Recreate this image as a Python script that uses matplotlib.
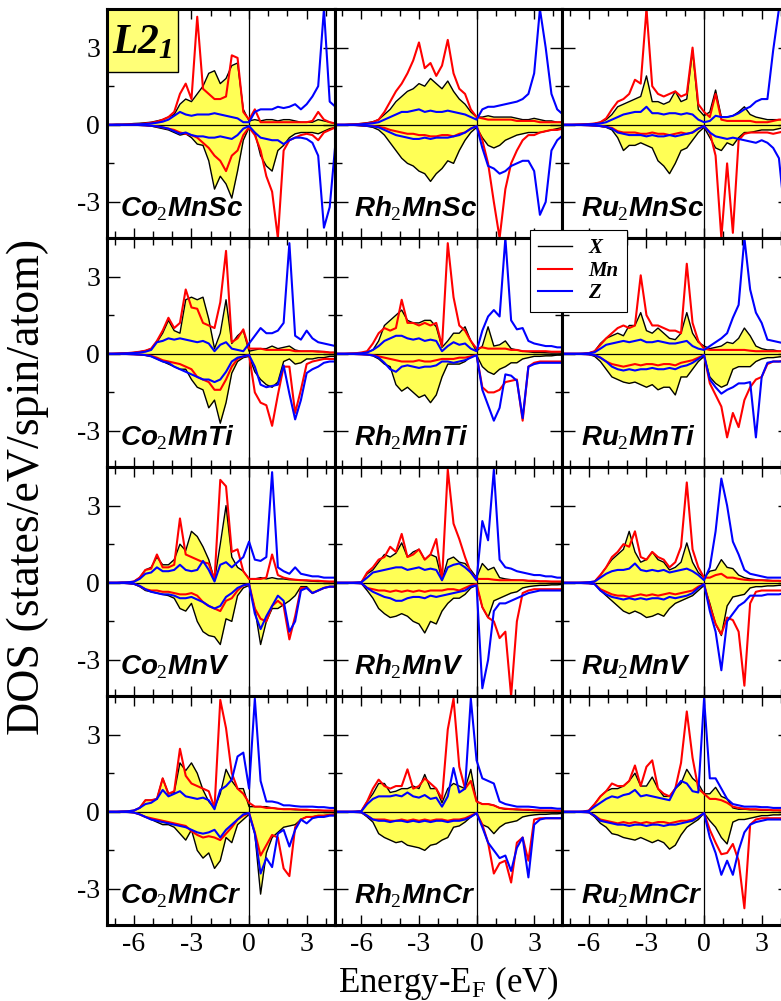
import matplotlib
matplotlib.use("Agg")
import matplotlib.pyplot as plt
from matplotlib.patches import Rectangle
from matplotlib.lines import Line2D
from matplotlib.ticker import FixedLocator, MultipleLocator

plt.rcParams["font.family"] = "Liberation Serif"
plt.rcParams["axes.unicode_minus"] = False
plt.rcParams["mathtext.fontset"] = "custom"
plt.rcParams["mathtext.rm"] = "Liberation Serif"
plt.rcParams["mathtext.it"] = "Liberation Sans:italic:bold"
plt.rcParams["mathtext.bf"] = "Liberation Serif:italic:bold"

# energy grid (eV, relative to E_F)
energy = [-7.5, -7.2, -6.9, -6.6, -6.3, -6.0, -5.7, -5.4, -5.1, -4.8,
          -4.5, -4.2, -3.9, -3.6, -3.3, -3.0, -2.7, -2.4, -2.1, -1.8,
          -1.5, -1.2, -0.9, -0.6, -0.3, 0.0, 0.3, 0.6, 0.9, 1.2,
          1.5, 1.8, 2.1, 2.4, 2.7, 3.0, 3.3, 3.6, 3.9, 4.2, 4.5]

# ---- Co2MnSc ----
co2mnsc_x_up = [0, 0, 0.02, 0.02, 0.03, 0.05, 0.06, 0.08, 0.1, 0.15,
                0.2, 0.3, 0.4, 0.8, 1.0, 0.9, 1.2, 1.5, 2.0, 2.1,
                1.6, 1.8, 2.3, 2.4, 0.6, 0.15, 0.2, 0.15, 0.2, 0.2,
                0.15, 0.2, 0.2, 0.15, 0.1, 0.1, 0.1, 0.2, 0.15, 0.1, 0.05]
co2mnsc_mn_up = [0, 0, 0, 0, 0.01, 0.02, 0.03, 0.05, 0.08, 0.12,
                 0.2, 0.3, 0.5, 1.2, 1.6, 1.0, 4.2, 1.4, 1.2, 1.0,
                 1.0, 1.1, 2.7, 2.6, 0.5, 0.2, 0.6, 0.1, 0.1, 0.1,
                 0.1, 0.1, 0.1, 0.1, 0.1, 0.1, 0.15, 0.5, 0.2, 0.1, 0.05]
co2mnsc_z_up = [0, 0, 0, 0, 0, 0.01, 0.02, 0.03, 0.05, 0.08,
                0.12, 0.2, 0.35, 0.5, 0.4, 0.35, 0.4, 0.4, 0.4, 0.45,
                0.4, 0.35, 0.3, 0.25, 0.1, 0.1, 0.5, 0.6, 0.6, 0.6,
                0.7, 0.65, 0.7, 0.8, 0.6, 0.8, 1.1, 1.5, 4.5, 0.9, 0.7]
co2mnsc_x_dn = [0, 0, 0, 0, 0, -0.01, -0.02, -0.03, -0.05, -0.1,
                -0.15, -0.2, -0.3, -0.4, -0.35, -0.5, -0.75, -0.8, -1.4, -2.5,
                -2.0, -2.3, -2.85, -1.8, -0.6, -0.1, -0.3, -1.2, -1.6, -1.8,
                -1.0, -0.8, -0.5, -0.35, -0.3, -0.3, -0.3, -0.35, -0.25, -0.15, -0.1]
co2mnsc_mn_dn = [0, 0, 0, 0, 0, 0, -0.01, -0.02, -0.04, -0.06,
                 -0.1, -0.15, -0.2, -0.3, -0.35, -0.4, -0.5, -0.7, -0.9, -1.2,
                 -1.4, -1.8, -1.2, -1.0, -0.4, -0.1, -0.4, -1.0, -2.0, -2.6,
                 -4.4, -1.0, -0.6, -0.5, -0.4, -0.35, -0.4, -0.6, -0.3, -0.2, -0.1]
co2mnsc_z_dn = [0, 0, 0, 0, 0, 0, -0.01, -0.02, -0.04, -0.06,
                -0.1, -0.15, -0.25, -0.35, -0.3, -0.4, -0.45, -0.45, -0.5, -0.5,
                -0.45, -0.5, -0.55, -0.4, -0.15, -0.05, -0.3, -0.5, -0.55, -0.6,
                -0.6, -0.75, -0.6, -0.5, -0.5, -0.55, -0.7, -1.2, -4.0, -3.2, -0.7]

# ---- Rh2MnSc ----
rh2mnsc_x_up = [0, 0, 0, 0.02, 0.03, 0.05, 0.08, 0.12, 0.2, 0.4,
                0.6, 0.9, 1.1, 1.3, 1.4, 1.6, 1.5, 1.8, 1.6, 1.4,
                1.7, 1.3, 1.0, 0.8, 0.5, 0.3, 0.3, 0.35, 0.3, 0.3,
                0.3, 0.3, 0.25, 0.2, 0.2, 0.25, 0.2, 0.15, 0.15, 0.1, 0.1]
rh2mnsc_mn_up = [0, 0, 0, 0.01, 0.02, 0.04, 0.06, 0.1, 0.2, 0.5,
                 0.9, 1.3, 1.6, 2.0, 2.5, 3.2, 2.2, 2.4, 1.9, 2.3,
                 3.3, 2.0, 1.4, 1.2, 0.6, 0.3, 0.25, 0.2, 0.2, 0.2,
                 0.2, 0.2, 0.15, 0.15, 0.15, 0.15, 0.1, 0.1, 0.1, 0.1, 0.1]
rh2mnsc_z_up = [0, 0, 0, 0, 0.01, 0.02, 0.04, 0.06, 0.1, 0.2,
                0.3, 0.4, 0.5, 0.5, 0.55, 0.6, 0.5, 0.55, 0.5, 0.5,
                0.55, 0.5, 0.45, 0.4, 0.3, 0.2, 0.6, 0.7, 0.7, 0.75,
                0.8, 0.85, 0.9, 1.0, 1.2, 2.0, 4.5, 3.0, 1.2, 0.6, 0.4]
rh2mnsc_x_dn = [0, 0, 0, 0, -0.02, -0.04, -0.06, -0.1, -0.2, -0.4,
                -0.7, -1.0, -1.3, -1.5, -1.6, -1.8, -1.9, -2.2, -1.9, -1.7,
                -1.4, -1.5, -1.0, -0.6, -0.3, -0.1, -0.5, -0.8, -0.9, -0.8,
                -0.6, -0.5, -0.4, -0.35, -0.3, -0.3, -0.3, -0.25, -0.2, -0.15, -0.1]
rh2mnsc_mn_dn = [0, 0, 0, 0, -0.01, -0.02, -0.03, -0.05, -0.08, -0.12,
                 -0.2, -0.25, -0.3, -0.35, -0.35, -0.4, -0.4, -0.45, -0.45, -0.4,
                 -0.4, -0.45, -0.35, -0.3, -0.15, -0.05, -0.6, -1.5, -3.0, -4.4,
                 -2.5, -1.5, -1.0, -0.6, -0.4, -0.4, -0.3, -0.25, -0.2, -0.2, -0.15]
rh2mnsc_z_dn = [0, 0, 0, 0, -0.01, -0.02, -0.04, -0.06, -0.1, -0.2,
                -0.3, -0.4, -0.45, -0.5, -0.55, -0.55, -0.5, -0.55, -0.5, -0.5,
                -0.5, -0.45, -0.4, -0.3, -0.15, -0.05, -0.9, -1.6, -1.7, -1.9,
                -1.8, -1.6, -1.5, -1.4, -1.4, -1.8, -3.5, -3.0, -1.0, -0.6, -0.4]

# ---- Ru2MnSc ----
ru2mnsc_x_up = [0, 0, 0, 0.01, 0.02, 0.03, 0.05, 0.1, 0.2, 0.4,
                0.7, 0.8, 0.9, 1.0, 1.1, 1.9, 0.9, 0.9, 0.8, 0.9,
                1.3, 0.9, 1.0, 2.9, 0.6, 0.35, 0.5, 1.35, 0.3, 0.3,
                0.35, 0.5, 0.7, 0.4, 0.3, 0.25, 0.2, 0.2, 0.2, 0.2, 0.2]
ru2mnsc_mn_up = [0, 0, 0, 0.01, 0.02, 0.03, 0.05, 0.1, 0.25, 0.6,
                 0.9, 1.0, 1.2, 1.75, 1.6, 4.5, 1.5, 1.2, 1.1, 1.2,
                 1.3, 1.1, 1.2, 3.0, 0.8, 0.5, 0.3, 1.2, 0.2, 0.15,
                 0.15, 0.15, 0.15, 0.15, 0.1, 0.1, 0.1, 0.15, 0.2, 0.2, 0.2]
ru2mnsc_z_up = [0, 0, 0, 0, 0.01, 0.02, 0.03, 0.05, 0.1, 0.2,
                0.3, 0.4, 0.45, 0.5, 0.5, 0.7, 0.45, 0.45, 0.4, 0.45,
                0.45, 0.4, 0.45, 0.4, 0.2, 0.1, 0.15, 0.35, 0.3, 0.3,
                0.35, 0.45, 0.6, 0.7, 0.9, 1.0, 1.0, 2.9, 4.5, 4.5, 3.0]
ru2mnsc_x_dn = [0, 0, 0, 0, -0.01, -0.02, -0.04, -0.06, -0.1, -0.2,
                -0.5, -1.0, -0.8, -0.8, -0.7, -0.8, -0.9, -1.4, -1.6, -1.9,
                -1.5, -1.0, -0.9, -0.6, -0.3, -0.1, -0.5, -0.9, -1.0, -0.7,
                -0.8, -0.5, -0.3, -0.3, -0.25, -0.2, -0.2, -0.2, -0.15, -0.1, -0.1]
ru2mnsc_mn_dn = [0, 0, 0, 0, -0.01, -0.02, -0.03, -0.05, -0.08, -0.12,
                 -0.25, -0.3, -0.3, -0.3, -0.35, -0.35, -0.3, -0.35, -0.35, -0.4,
                 -0.35, -0.3, -0.35, -0.3, -0.15, -0.05, -0.3, -1.2, -4.4, -1.5,
                 -4.2, -0.6, -0.35, -0.3, -0.3, -0.3, -0.3, -0.35, -0.3, -0.25, -0.2]
ru2mnsc_z_dn = [0, 0, 0, 0, -0.01, -0.02, -0.03, -0.05, -0.08, -0.15,
                -0.3, -0.35, -0.4, -0.4, -0.4, -0.45, -0.4, -0.45, -0.45, -0.4,
                -0.45, -0.4, -0.35, -0.3, -0.15, -0.05, -0.3, -0.45, -0.5, -0.55,
                -0.5, -0.55, -0.6, -0.65, -0.7, -0.6, -0.7, -0.9, -1.3, -3.5, -3.5]

# ---- Co2MnTi ----
co2mnti_x_up = [0, 0, 0.01, 0.02, 0.03, 0.05, 0.08, 0.12, 0.2, 0.45,
                0.8, 1.3, 0.9, 0.8, 2.1, 2.2, 2.1, 2.2, 1.35, 0.2,
                0.8, 2.1, 0.4, 0.7, 0.9, 0.1, 0.15, 0.2, 0.2, 0.3,
                0.2, 0.25, 0.3, 0.15, 0.1, 0.1, 0.1, 0.1, 0.08, 0.05, 0.05]
co2mnti_mn_up = [0, 0, 0.01, 0.02, 0.03, 0.05, 0.08, 0.12, 0.2, 0.5,
                 0.9, 1.4, 1.0, 1.2, 2.5, 1.8, 1.75, 1.2, 1.1, 1.0,
                 2.0, 4.0, 0.45, 0.6, 0.95, 0.2, 0.2, 0.2, 0.15, 0.15,
                 0.15, 0.15, 0.15, 0.1, 0.1, 0.1, 0.1, 0.08, 0.08, 0.05, 0.05]
co2mnti_z_up = [0, 0, 0, 0.01, 0.02, 0.03, 0.05, 0.08, 0.15, 0.45,
                0.5, 0.6, 0.55, 0.6, 0.55, 0.5, 0.45, 0.5, 0.4, 0.1,
                0.35, 0.45, 0.2, 0.15, 0.1, 0.4, 0.7, 1.0, 0.8, 0.8,
                0.9, 1.2, 4.3, 0.7, 0.55, 0.9, 0.6, 0.45, 0.4, 0.35, 0.3]
co2mnti_x_dn = [0, 0, 0, 0, -0.01, -0.02, -0.04, -0.06, -0.1, -0.2,
                -0.3, -0.4, -0.5, -0.6, -0.6, -1.0, -1.3, -1.4, -2.1, -1.8,
                -2.7, -1.9, -0.75, -0.3, -0.15, -0.1, -0.7, -1.0, -1.2, -1.3,
                -1.1, -0.3, -0.2, -0.4, -0.35, -0.2, -0.2, -0.15, -0.15, -0.1, -0.1]
co2mnti_mn_dn = [0, 0, 0, 0, -0.01, -0.02, -0.03, -0.05, -0.08, -0.15,
                 -0.25, -0.3, -0.35, -0.4, -0.5, -0.6, -0.9, -1.0, -1.1, -1.4,
                 -1.4, -1.0, -0.5, -0.2, -0.1, -0.05, -1.5, -1.9, -2.0, -2.8,
                 -1.6, -0.5, -0.5, -2.3, -1.4, -0.4, -0.3, -0.25, -0.2, -0.2, -0.2]
co2mnti_z_dn = [0, 0, 0, 0, -0.01, -0.02, -0.03, -0.05, -0.1, -0.2,
                -0.3, -0.35, -0.5, -0.6, -0.7, -0.8, -0.9, -1.0, -1.0, -1.1,
                -1.0, -0.7, -0.3, -0.15, -0.1, -0.05, -0.5, -1.2, -1.3, -1.25,
                -1.2, -0.45, -1.55, -2.55, -1.8, -0.75, -0.6, -0.5, -0.35, -0.3, -0.3]

# ---- Rh2MnTi ----
rh2mnti_x_up = [0, 0, 0, 0.01, 0.02, 0.04, 0.06, 0.15, 0.5, 1.1,
                1.3, 1.5, 1.7, 1.3, 1.2, 1.2, 1.3, 1.3, 1.05, 0.25,
                0.5, 0.8, 0.8, 1.05, 0.5, 0.1, 0.3, 1.05, 0.3, 0.35,
                0.5, 0.2, 0.15, 0.1, 0.08, 0.05, 0.05, 0.04, 0.03, 0.03, 0.02]
rh2mnti_mn_up = [0, 0, 0, 0.01, 0.02, 0.05, 0.1, 0.4, 0.8, 1.0,
                 0.9, 1.0, 2.1, 1.2, 1.2, 1.1, 1.2, 1.1, 1.2, 0.3,
                 4.3, 2.2, 1.1, 0.9, 0.5, 0.2, 0.25, 0.2, 0.2, 0.2,
                 0.2, 0.15, 0.15, 0.1, 0.1, 0.1, 0.1, 0.1, 0.08, 0.08, 0.08]
rh2mnti_z_up = [0, 0, 0, 0, 0.01, 0.02, 0.05, 0.15, 0.3, 0.5,
                0.6, 0.7, 0.7, 0.6, 0.55, 0.6, 0.5, 0.55, 0.5, 0.1,
                0.3, 0.45, 0.35, 0.4, 0.2, 0.1, 0.9, 1.45, 1.7, 1.45,
                4.5, 1.3, 0.95, 1.0, 0.5, 0.4, 0.35, 0.3, 0.3, 0.25, 0.25]
rh2mnti_x_dn = [0, 0, 0, 0, -0.01, -0.02, -0.04, -0.08, -0.2, -0.4,
                -0.5, -1.2, -1.45, -1.3, -1.5, -1.7, -1.6, -1.9, -1.6, -0.9,
                -0.4, -0.4, -0.4, -0.3, -0.1, -0.05, -0.5, -0.7, -0.8, -0.6,
                -0.5, -0.35, -0.35, -0.2, -0.15, -0.1, -0.1, -0.08, -0.08, -0.05, -0.05]
rh2mnti_mn_dn = [0, 0, 0, 0, -0.01, -0.02, -0.03, -0.05, -0.1, -0.15,
                 -0.2, -0.25, -0.3, -0.3, -0.3, -0.25, -0.3, -0.3, -0.25, -0.2,
                 -0.2, -0.2, -0.15, -0.15, -0.1, -0.05, -1.3, -1.5, -1.5, -1.4,
                 -1.1, -1.05, -1.0, -2.6, -0.5, -0.35, -0.3, -0.3, -0.3, -0.3, -0.3]
rh2mnti_z_dn = [0, 0, 0, 0, -0.01, -0.02, -0.03, -0.06, -0.15, -0.35,
                -0.6, -0.7, -0.5, -0.45, -0.5, -0.55, -0.5, -0.5, -0.45, -0.3,
                -0.3, -0.35, -0.3, -0.25, -0.15, -0.05, -1.4, -2.0, -2.6, -2.1,
                -0.8, -0.85, -1.05, -2.5, -0.5, -0.4, -0.35, -0.35, -0.35, -0.35, -0.35]

# ---- Ru2MnTi ----
ru2mnti_x_up = [0, 0, 0, 0, 0.01, 0.03, 0.1, 0.4, 0.6, 0.7,
                0.8, 0.7, 1.1, 1.1, 1.6, 0.9, 0.8, 1.0, 0.8, 0.6,
                0.55, 0.8, 1.6, 0.8, 0.45, 0.3, 0.2, 0.25, 0.3, 0.45,
                0.4, 0.6, 1.0, 0.7, 0.3, 0.2, 0.15, 0.15, 0.1, 0.1, 0.1]
ru2mnti_mn_up = [0, 0, 0, 0, 0.01, 0.03, 0.1, 0.35, 0.6, 0.8,
                 1.0, 1.1, 1.0, 1.1, 3.05, 1.5, 1.1, 1.1, 1.0, 0.9,
                 0.9, 0.8, 3.5, 1.2, 0.5, 0.2, 0.15, 0.15, 0.15, 0.15,
                 0.15, 0.15, 0.15, 0.12, 0.1, 0.1, 0.1, 0.1, 0.1, 0.1, 0.1]
ru2mnti_z_up = [0, 0, 0, 0, 0.01, 0.02, 0.06, 0.2, 0.35, 0.4,
                0.45, 0.5, 0.45, 0.5, 0.55, 0.45, 0.45, 0.5, 0.45, 0.4,
                0.4, 0.45, 0.5, 0.3, 0.2, 0.15, 0.3, 0.45, 0.6, 0.8,
                1.4, 1.9, 4.5, 2.5, 1.6, 1.2, 0.55, 0.5, 0.45, 0.4, 0.4]
ru2mnti_x_dn = [0, 0, 0, 0, -0.01, -0.03, -0.1, -0.3, -0.6, -0.9,
                -1.0, -1.1, -1.15, -1.1, -1.2, -1.3, -1.2, -1.4, -1.3, -1.3,
                -1.6, -0.9, -0.9, -0.6, -0.3, -0.1, -0.9, -1.15, -1.3, -1.2,
                -0.6, -0.5, -0.5, -0.5, -0.3, -0.2, -0.15, -0.15, -0.12, -0.1, -0.1]
ru2mnti_mn_dn = [0, 0, 0, 0, -0.01, -0.02, -0.05, -0.15, -0.3, -0.4,
                 -0.45, -0.5, -0.45, -0.4, -0.45, -0.4, -0.4, -0.45, -0.4, -0.4,
                 -0.45, -0.35, -0.3, -0.25, -0.15, -0.05, -1.15, -1.6, -2.05, -3.25,
                 -2.3, -2.85, -1.8, -1.3, -1.0, -0.9, -0.4, -0.3, -0.3, -0.25, -0.25]
ru2mnti_z_dn = [0, 0, 0, 0, -0.01, -0.02, -0.05, -0.15, -0.3, -0.5,
                -0.6, -0.65, -0.6, -0.65, -0.6, -0.6, -0.55, -0.6, -0.6, -0.55,
                -0.6, -0.5, -0.45, -0.35, -0.2, -0.05, -1.0, -1.3, -1.55, -1.4,
                -1.3, -1.15, -1.15, -1.1, -3.25, -0.9, -0.35, -0.3, -0.3, -0.3, -0.3]

# ---- Co2MnV ----
co2mnv_x_up = [0, 0, 0, 0.01, 0.02, 0.05, 0.2, 0.5, 0.6, 1.0,
               0.7, 0.7, 0.9, 1.5, 1.25, 2.0, 1.8, 1.4, 0.9, 0.1,
               1.5, 3.0, 1.0, 0.6, 0.45, 0.15, 0.15, 0.2, 0.15, 0.2,
               0.15, 0.15, 0.12, 0.12, 0.1, 0.08, 0.06, 0.05, 0.05, 0.04, 0.04]
co2mnv_mn_up = [0, 0, 0, 0.01, 0.02, 0.05, 0.2, 0.5, 0.55, 1.1,
                0.6, 0.6, 0.7, 2.5, 1.1, 1.0, 0.9, 0.8, 0.75, 0.1,
                4.0, 3.75, 1.2, 1.3, 0.45, 0.15, 0.15, 0.15, 0.2, 1.1,
                0.3, 0.2, 0.15, 0.12, 0.1, 0.1, 0.08, 0.08, 0.06, 0.05, 0.05]
co2mnv_z_up = [0, 0, 0, 0.01, 0.02, 0.04, 0.15, 0.35, 0.4, 0.6,
               0.45, 0.45, 0.5, 0.7, 0.5, 0.45, 0.5, 0.85, 0.5, 0.05,
               0.7, 0.8, 0.6, 0.8, 1.0, 1.6, 0.9, 0.85, 1.0, 4.3,
               0.6, 0.45, 0.35, 0.6, 0.35, 0.3, 0.25, 0.25, 0.2, 0.2, 0.2]
co2mnv_x_dn = [0, 0, 0, 0, -0.02, -0.05, -0.15, -0.3, -0.35, -0.4,
               -0.45, -0.5, -0.6, -1.0, -1.1, -0.8, -1.5, -1.9, -2.05, -2.1,
               -2.4, -1.4, -1.5, -0.5, -0.2, -0.1, -1.0, -2.4, -1.5, -1.0,
               -1.0, -0.85, -0.7, -0.5, -0.15, -0.15, -0.4, -0.3, -0.2, -0.15, -0.15]
co2mnv_mn_dn = [0, 0, 0, 0, -0.02, -0.04, -0.12, -0.25, -0.3, -0.3,
                -0.35, -0.35, -0.4, -0.45, -0.45, -0.4, -0.5, -0.75, -0.9, -1.0,
                -1.1, -0.7, -0.6, -0.3, -0.1, -0.05, -1.0, -1.4, -1.5, -0.9,
                -0.7, -0.9, -2.2, -1.3, -0.2, -0.2, -0.4, -0.3, -0.2, -0.15, -0.15]
co2mnv_z_dn = [0, 0, 0, 0, -0.02, -0.04, -0.12, -0.25, -0.35, -0.4,
               -0.45, -0.45, -0.5, -0.6, -0.6, -0.55, -0.65, -0.75, -0.9, -1.0,
               -0.9, -0.55, -0.4, -0.2, -0.1, -0.05, -1.2, -1.8, -1.3, -0.9,
               -0.5, -0.7, -1.9, -1.5, -0.3, -0.2, -0.4, -0.3, -0.2, -0.15, -0.15]

# ---- Rh2MnV ----
rh2mnv_x_up = [0, 0, 0, 0, 0.01, 0.02, 0.35, 0.5, 0.8, 1.1,
               1.0, 1.15, 1.55, 1.0, 1.2, 1.3, 0.9, 1.1, 1.0, 0.1,
               0.9, 1.0, 0.8, 0.75, 0.5, 0.2, 0.75, 0.5, 0.6, 0.2,
               0.15, 0.12, 0.1, 0.1, 0.08, 0.06, 0.05, 0.05, 0.04, 0.04, 0.03]
rh2mnv_mn_up = [0, 0, 0, 0, 0.01, 0.02, 0.4, 0.6, 0.9, 1.0,
                1.4, 1.2, 1.9, 1.0, 1.1, 1.3, 0.9, 1.1, 1.7, 0.1,
                4.4, 2.3, 1.7, 1.0, 0.4, 0.15, 0.15, 0.15, 0.12, 0.1,
                0.1, 0.1, 0.1, 0.1, 0.08, 0.08, 0.06, 0.06, 0.05, 0.05, 0.05]
rh2mnv_z_up = [0, 0, 0, 0, 0.01, 0.02, 0.2, 0.4, 0.45, 0.5,
               0.55, 0.6, 0.6, 0.5, 0.55, 0.6, 0.5, 0.55, 0.5, 0.1,
               0.6, 0.7, 0.75, 0.6, 0.4, 0.1, 2.4, 1.65, 4.4, 0.9,
               0.6, 0.55, 0.45, 0.4, 0.35, 0.3, 0.3, 0.25, 0.25, 0.2, 0.2]
rh2mnv_x_dn = [0, 0, 0, 0, -0.01, -0.03, -0.3, -0.6, -1.0, -1.2,
               -1.35, -1.3, -1.2, -1.3, -1.5, -1.6, -1.95, -1.5, -1.6, -1.1,
               -0.8, -0.6, -0.6, -0.45, -0.2, -0.1, -0.95, -1.35, -0.7, -0.6,
               -0.5, -0.4, -0.35, -0.2, -0.15, -0.12, -0.1, -0.1, -0.08, -0.08, -0.06]
rh2mnv_mn_dn = [0, 0, 0, 0, -0.01, -0.02, -0.2, -0.25, -0.3, -0.3,
                -0.35, -0.3, -0.35, -0.3, -0.35, -0.3, -0.35, -0.3, -0.3, -0.3,
                -0.25, -0.25, -0.3, -0.2, -0.1, -0.05, -0.95, -1.35, -1.5, -2.15,
                -1.9, -4.4, -1.5, -0.4, -0.3, -0.25, -0.25, -0.25, -0.25, -0.25, -0.25]
rh2mnv_z_dn = [0, 0, 0, 0, -0.01, -0.02, -0.2, -0.35, -0.45, -0.55,
               -0.6, -0.7, -0.7, -0.6, -0.55, -0.55, -0.6, -0.5, -0.55, -0.5,
               -0.45, -0.4, -0.35, -0.3, -0.15, -0.1, -4.1, -3.0, -1.1, -0.8,
               -0.8, -0.7, -0.6, -0.5, -0.4, -0.35, -0.3, -0.3, -0.3, -0.3, -0.3]

# ---- Ru2MnV ----
ru2mnv_x_up = [0, 0, 0, 0, 0.01, 0.02, 0.05, 0.3, 0.6, 0.9,
               1.1, 1.3, 2.0, 1.2, 0.8, 0.9, 1.2, 0.9, 0.8, 0.5,
               0.6, 0.8, 1.55, 0.8, 0.4, 0.2, 0.45, 0.5, 0.9, 0.6,
               0.55, 0.3, 0.2, 0.15, 0.12, 0.1, 0.1, 0.08, 0.08, 0.06, 0.06]
ru2mnv_mn_up = [0, 0, 0, 0, 0.01, 0.02, 0.05, 0.3, 0.6, 1.0,
                1.2, 1.5, 1.4, 2.0, 1.0, 0.9, 1.2, 1.0, 0.9, 0.6,
                0.8, 1.4, 3.9, 1.3, 0.6, 0.2, 0.2, 0.3, 0.35, 0.2,
                0.2, 0.15, 0.12, 0.1, 0.1, 0.1, 0.08, 0.08, 0.08, 0.06, 0.06]
ru2mnv_z_up = [0, 0, 0, 0, 0.01, 0.02, 0.05, 0.2, 0.35, 0.45,
               0.5, 0.5, 0.55, 0.75, 0.5, 0.45, 0.5, 0.45, 0.5, 0.4,
               0.45, 0.5, 0.55, 0.45, 0.3, 0.1, 0.6, 2.0, 4.05, 3.0,
               1.6, 1.1, 0.5, 0.35, 0.3, 0.25, 0.2, 0.2, 0.2, 0.2, 0.2]
ru2mnv_x_dn = [0, 0, 0, 0, -0.01, -0.02, -0.05, -0.3, -0.5, -0.7,
               -0.9, -1.1, -1.2, -1.1, -1.2, -1.35, -1.3, -1.2, -1.3, -1.0,
               -0.8, -0.7, -0.6, -0.5, -0.3, -0.1, -0.8, -1.6, -2.05, -0.9,
               -0.55, -0.5, -0.45, -0.2, -0.15, -0.15, -0.12, -0.12, -0.1, -0.1, -0.1]
ru2mnv_mn_dn = [0, 0, 0, 0, -0.01, -0.02, -0.05, -0.25, -0.35, -0.45,
                -0.5, -0.5, -0.55, -0.5, -0.45, -0.5, -0.45, -0.5, -0.45, -0.4,
                -0.45, -0.4, -0.35, -0.3, -0.15, -0.05, -0.9, -1.6, -2.0, -1.35,
                -1.45, -1.9, -4.0, -0.8, -0.35, -0.3, -0.3, -0.3, -0.3, -0.3, -0.3]
ru2mnv_z_dn = [0, 0, 0, 0, -0.01, -0.02, -0.05, -0.3, -0.45, -0.55,
               -0.6, -0.65, -0.6, -0.65, -0.6, -0.65, -0.6, -0.6, -0.65, -0.55,
               -0.6, -0.55, -0.5, -0.4, -0.2, -0.05, -1.1, -1.9, -3.4, -1.5,
               -1.2, -0.9, -0.75, -0.5, -0.5, -0.5, -0.45, -0.45, -0.45, -0.4, -0.4]

# ---- Co2MnCr ----
co2mncr_x_up = [0, 0, 0, 0.01, 0.02, 0.05, 0.15, 0.45, 0.45, 0.5,
                1.3, 0.7, 0.75, 1.9, 1.6, 1.9, 1.5, 0.85, 0.4, 0.15,
                0.7, 1.65, 1.2, 0.9, 0.9, 0.2, 0.2, 0.2, 0.2, 0.15,
                0.12, 0.1, 0.1, 0.08, 0.08, 0.06, 0.05, 0.05, 0.04, 0.04, 0.04]
co2mncr_mn_up = [0, 0, 0, 0.01, 0.02, 0.05, 0.15, 0.45, 0.45, 0.5,
                 1.3, 0.7, 0.8, 2.45, 1.4, 1.1, 1.0, 0.9, 0.8, 0.15,
                 4.35, 3.25, 1.5, 0.9, 0.7, 0.35, 0.2, 0.2, 0.15, 0.15,
                 0.12, 0.1, 0.1, 0.1, 0.08, 0.08, 0.06, 0.06, 0.05, 0.05, 0.05]
co2mncr_z_up = [0, 0, 0, 0.01, 0.02, 0.05, 0.15, 0.3, 0.35, 0.5,
                0.85, 0.6, 0.7, 0.8, 0.6, 0.55, 0.5, 0.55, 0.45, 0.1,
                0.85, 1.0, 1.25, 2.15, 2.3, 0.9, 4.4, 1.2, 0.4, 0.4,
                0.35, 0.25, 0.25, 0.22, 0.2, 0.2, 0.2, 0.18, 0.18, 0.15, 0.15]
co2mncr_x_dn = [0, 0, 0, 0, -0.01, -0.03, -0.1, -0.2, -0.3, -0.4,
                -0.5, -0.5, -0.6, -0.85, -1.1, -0.7, -1.5, -1.8, -1.6, -2.2,
                -1.9, -1.0, -1.2, -0.5, -0.3, -0.1, -0.85, -3.2, -1.6, -1.0,
                -0.8, -0.6, -0.55, -0.5, -0.3, -0.2, -0.2, -0.15, -0.15, -0.12, -0.1]
co2mncr_mn_dn = [0, 0, 0, 0, -0.01, -0.03, -0.1, -0.2, -0.25, -0.3,
                 -0.35, -0.4, -0.45, -0.5, -0.55, -0.75, -0.9, -1.0, -0.95, -1.0,
                 -1.1, -0.85, -0.6, -0.3, -0.15, -0.05, -0.8, -1.7, -1.3, -0.9,
                 -1.0, -2.2, -2.5, -0.6, -0.3, -0.2, -0.2, -0.15, -0.15, -0.12, -0.1]
co2mncr_z_dn = [0, 0, 0, 0, -0.01, -0.03, -0.1, -0.2, -0.3, -0.35,
                -0.4, -0.45, -0.5, -0.55, -0.6, -0.7, -0.8, -0.85, -0.8, -0.7,
                -1.0, -0.7, -0.5, -0.3, -0.1, -0.05, -0.85, -2.4, -1.8, -2.15,
                -0.85, -0.7, -1.35, -0.7, -0.3, -0.45, -0.25, -0.2, -0.2, -0.15, -0.15]

# ---- Rh2MnCr ----
rh2mncr_x_up = [0, 0, 0, 0, 0.01, 0.03, 0.4, 0.7, 1.1, 1.1,
                0.75, 0.8, 0.9, 0.9, 1.0, 0.9, 1.45, 0.9, 0.9, 0.35,
                0.9, 1.1, 1.0, 0.9, 1.65, 0.4, 0.3, 0.3, 0.25, 0.15,
                0.1, 0.1, 0.08, 0.08, 0.06, 0.05, 0.05, 0.04, 0.04, 0.03, 0.03]
rh2mncr_mn_up = [0, 0, 0, 0, 0.01, 0.03, 0.4, 0.9, 1.25, 1.0,
                 0.9, 1.0, 1.0, 1.65, 0.9, 1.0, 1.3, 1.1, 0.9, 0.5,
                 3.2, 4.4, 1.75, 0.9, 1.2, 0.4, 0.3, 0.3, 0.25, 0.15,
                 0.12, 0.1, 0.1, 0.08, 0.08, 0.06, 0.05, 0.05, 0.05, 0.04, 0.04]
rh2mncr_z_up = [0, 0, 0, 0, 0.01, 0.02, 0.3, 0.5, 0.6, 0.6,
                0.6, 0.65, 0.6, 0.75, 0.6, 0.55, 0.65, 0.5, 0.55, 0.2,
                0.6, 1.7, 0.75, 0.9, 4.4, 2.0, 1.3, 1.2, 1.1, 0.4,
                0.3, 0.25, 0.2, 0.2, 0.2, 0.18, 0.15, 0.15, 0.15, 0.12, 0.12]
rh2mncr_x_dn = [0, 0, 0, 0, -0.01, -0.03, -0.2, -0.4, -0.85, -1.0,
                -1.1, -1.2, -1.15, -1.3, -1.35, -1.4, -1.5, -1.3, -1.25, -1.1,
                -1.0, -0.6, -0.55, -0.4, -0.2, -0.05, -0.5, -0.6, -0.85, -0.6,
                -0.45, -0.4, -0.35, -0.2, -0.15, -0.12, -0.1, -0.1, -0.08, -0.08, -0.06]
rh2mncr_mn_dn = [0, 0, 0, 0, -0.01, -0.02, -0.15, -0.3, -0.3, -0.3,
                 -0.35, -0.35, -0.3, -0.35, -0.3, -0.35, -0.3, -0.35, -0.3, -0.3,
                 -0.35, -0.3, -0.3, -0.25, -0.15, -0.05, -0.5, -1.2, -2.4, -2.0,
                 -1.9, -2.75, -1.2, -1.0, -1.9, -0.3, -0.25, -0.25, -0.25, -0.25, -0.25]
rh2mncr_z_dn = [0, 0, 0, 0, -0.01, -0.02, -0.15, -0.3, -0.35, -0.35,
                -0.4, -0.35, -0.35, -0.4, -0.35, -0.4, -0.35, -0.4, -0.35, -0.35,
                -0.4, -0.35, -0.35, -0.3, -0.2, -0.05, -0.6, -1.2, -1.5, -1.8,
                -1.7, -2.3, -1.4, -1.0, -2.55, -0.5, -0.3, -0.25, -0.25, -0.25, -0.25]

# ---- Ru2MnCr ----
ru2mncr_x_up = [0, 0, 0, 0, 0.01, 0.05, 0.3, 0.6, 0.8, 0.9,
                0.9, 1.0, 1.2, 1.5, 1.0, 1.0, 1.35, 0.9, 0.6, 0.6,
                0.9, 1.1, 1.65, 1.3, 1.1, 0.7, 0.7, 0.95, 0.6, 0.5,
                0.15, 0.1, 0.1, 0.08, 0.08, 0.06, 0.06, 0.05, 0.05, 0.04, 0.04]
ru2mncr_mn_up = [0, 0, 0, 0, 0.01, 0.05, 0.3, 0.6, 0.8, 1.1,
                 1.0, 1.0, 1.2, 1.8, 1.0, 1.75, 2.0, 0.9, 0.7, 0.6,
                 0.9, 1.9, 3.9, 2.1, 0.9, 0.7, 0.5, 0.5, 0.45, 0.35,
                 0.2, 0.15, 0.12, 0.1, 0.1, 0.08, 0.08, 0.06, 0.06, 0.05, 0.05]
ru2mncr_z_up = [0, 0, 0, 0, 0.01, 0.03, 0.2, 0.35, 0.5, 0.6,
                0.55, 0.65, 0.7, 0.85, 0.6, 0.65, 0.6, 0.55, 0.5, 0.45,
                0.9, 1.2, 1.1, 0.8, 0.75, 4.4, 1.3, 1.3, 0.9, 0.5,
                0.3, 0.25, 0.2, 0.2, 0.2, 0.18, 0.18, 0.15, 0.15, 0.15, 0.15]
ru2mncr_x_dn = [0, 0, 0, 0, -0.01, -0.03, -0.2, -0.45, -0.6, -0.85,
                -0.9, -1.0, -1.05, -1.1, -1.0, -1.1, -1.2, -1.1, -1.2, -1.45,
                -1.3, -0.9, -0.6, -0.45, -0.3, -0.05, -0.35, -0.6, -1.0, -1.25,
                -0.4, -0.3, -0.3, -0.25, -0.2, -0.15, -0.15, -0.12, -0.12, -0.1, -0.1]
ru2mncr_mn_dn = [0, 0, 0, 0, -0.01, -0.02, -0.15, -0.3, -0.35, -0.4,
                 -0.45, -0.4, -0.45, -0.4, -0.45, -0.4, -0.45, -0.4, -0.4, -0.45,
                 -0.4, -0.35, -0.35, -0.3, -0.2, -0.05, -0.7, -1.2, -1.65, -1.6,
                 -1.25, -1.9, -3.75, -0.5, -0.3, -0.25, -0.25, -0.25, -0.25, -0.25, -0.25]
ru2mncr_z_dn = [0, 0, 0, 0, -0.01, -0.02, -0.15, -0.35, -0.4, -0.45,
                -0.5, -0.5, -0.55, -0.5, -0.5, -0.55, -0.5, -0.5, -0.55, -0.5,
                -0.5, -0.45, -0.4, -0.35, -0.2, -0.05, -1.0, -1.6, -2.45, -1.9,
                -2.45, -1.5, -0.8, -0.5, -0.4, -0.35, -0.3, -0.3, -0.3, -0.3, -0.3]

hosts = ["Co", "Rh", "Ru"]
z_atoms = ["Sc", "Ti", "V", "Cr"]

# rows = Z atom, columns = host; each entry: X, Mn, Z (up, down)
panels = [
    [(co2mnsc_x_up, co2mnsc_x_dn, co2mnsc_mn_up, co2mnsc_mn_dn, co2mnsc_z_up, co2mnsc_z_dn),
     (rh2mnsc_x_up, rh2mnsc_x_dn, rh2mnsc_mn_up, rh2mnsc_mn_dn, rh2mnsc_z_up, rh2mnsc_z_dn),
     (ru2mnsc_x_up, ru2mnsc_x_dn, ru2mnsc_mn_up, ru2mnsc_mn_dn, ru2mnsc_z_up, ru2mnsc_z_dn)],
    [(co2mnti_x_up, co2mnti_x_dn, co2mnti_mn_up, co2mnti_mn_dn, co2mnti_z_up, co2mnti_z_dn),
     (rh2mnti_x_up, rh2mnti_x_dn, rh2mnti_mn_up, rh2mnti_mn_dn, rh2mnti_z_up, rh2mnti_z_dn),
     (ru2mnti_x_up, ru2mnti_x_dn, ru2mnti_mn_up, ru2mnti_mn_dn, ru2mnti_z_up, ru2mnti_z_dn)],
    [(co2mnv_x_up, co2mnv_x_dn, co2mnv_mn_up, co2mnv_mn_dn, co2mnv_z_up, co2mnv_z_dn),
     (rh2mnv_x_up, rh2mnv_x_dn, rh2mnv_mn_up, rh2mnv_mn_dn, rh2mnv_z_up, rh2mnv_z_dn),
     (ru2mnv_x_up, ru2mnv_x_dn, ru2mnv_mn_up, ru2mnv_mn_dn, ru2mnv_z_up, ru2mnv_z_dn)],
    [(co2mncr_x_up, co2mncr_x_dn, co2mncr_mn_up, co2mncr_mn_dn, co2mncr_z_up, co2mncr_z_dn),
     (rh2mncr_x_up, rh2mncr_x_dn, rh2mncr_mn_up, rh2mncr_mn_dn, rh2mncr_z_up, rh2mncr_z_dn),
     (ru2mncr_x_up, ru2mncr_x_dn, ru2mncr_mn_up, ru2mncr_mn_dn, ru2mncr_z_up, ru2mncr_z_dn)],
]

W, H = 781, 1001
left, top = 107, 9
col_w, row_h = 227.5, 229
fill_col = "#ffff55"

fig = plt.figure(figsize=(W / 100, H / 100), dpi=100)

axes = {}
for r, zname in enumerate(z_atoms):
    for c, host in enumerate(hosts):
        ax = fig.add_axes([(left + c * col_w) / W, (H - top - (r + 1) * row_h) / H,
                           col_w / W, row_h / H])
        axes[r, c] = ax
        x_up, x_dn, mn_up, mn_dn, z_up, z_dn = panels[r][c]

        ax.fill_between(energy, 0, x_up, color=fill_col, lw=0, zorder=1)
        ax.fill_between(energy, 0, x_dn, color=fill_col, lw=0, zorder=1)
        ax.axhline(0, color="k", lw=0.9, zorder=2)
        ax.axvline(0, color="k", lw=0.9, zorder=2)
        ax.plot(energy, x_up, color="k", lw=1.0, zorder=3)
        ax.plot(energy, x_dn, color="k", lw=1.0, zorder=3)
        ax.plot(energy, mn_up, color="#ff0000", lw=1.5, zorder=4)
        ax.plot(energy, mn_dn, color="#ff0000", lw=1.5, zorder=4)
        ax.plot(energy, z_up, color="#0000ff", lw=1.5, zorder=5)
        ax.plot(energy, z_dn, color="#0000ff", lw=1.5, zorder=5)

        ax.set_xlim(-7.4, 4.45)
        ax.set_ylim(-4.4, 4.5)
        ax.xaxis.set_major_locator(FixedLocator([-6, -3, 0, 3]))
        ax.xaxis.set_minor_locator(MultipleLocator(1))
        ax.yaxis.set_major_locator(FixedLocator([-3, 0, 3]))
        ax.yaxis.set_minor_locator(FixedLocator([-1.5, 1.5]))
        ax.tick_params(which="both", direction="in", top=True, right=True,
                       width=1.0, labelsize=20, pad=5,
                       labelleft=(c == 0), labelbottom=(r == 3))
        ax.tick_params(axis="x", which="major", length=7)
        ax.tick_params(axis="x", which="minor", length=5)
        ax.tick_params(axis="y", which="major", length=9)
        ax.tick_params(axis="y", which="minor", length=5)
        for sp in ax.spines.values():
            sp.set_linewidth(2.2)
            sp.set_zorder(10)

        xpos = 0.055 if c == 0 else 0.085
        ax.text(xpos, 0.096, r"$\mathit{%s_2Mn%s}$" % (host, zname),
                transform=ax.transAxes, fontsize=20, va="baseline", zorder=6)

# structure tag in the first panel
ax0 = axes[0, 0]
ax0.add_patch(Rectangle((0.0, 0.725), 0.312, 0.275, transform=ax0.transAxes,
                        facecolor="#ffff77", edgecolor="k", lw=1.0, zorder=8,
                        clip_on=False))
ax0.text(0.022, 0.808, r"$\mathbf{L2_1}$", transform=ax0.transAxes,
         fontsize=30, va="baseline", zorder=9)

handles = [Line2D([], [], color="k", lw=1.0),
           Line2D([], [], color="#ff0000", lw=1.5),
           Line2D([], [], color="#0000ff", lw=1.5)]
leg = fig.legend(handles, ["X", "Mn", "Z"], loc="upper left",
                 bbox_to_anchor=(530 / W, 1 - 230 / H), borderaxespad=0,
                 frameon=True, fancybox=False, framealpha=1, edgecolor="k",
                 handlelength=1.6, handletextpad=0.8, labelspacing=0.12,
                 borderpad=0.4,
                 prop=dict(family="Liberation Serif", weight="bold",
                           style="italic", size=15))
leg.get_frame().set_linewidth(0.8)

fig.text(448 / W, 1 - 992 / H, r"Energy-E$_\mathrm{F}$ (eV)", ha="center",
         va="baseline", fontsize=25)
fig.text(28 / W, 1 - 487 / H, "DOS (states/eV/spin/atom)", rotation=90,
         ha="center", va="center", fontsize=33)

fig.savefig("out.png", dpi=100)
